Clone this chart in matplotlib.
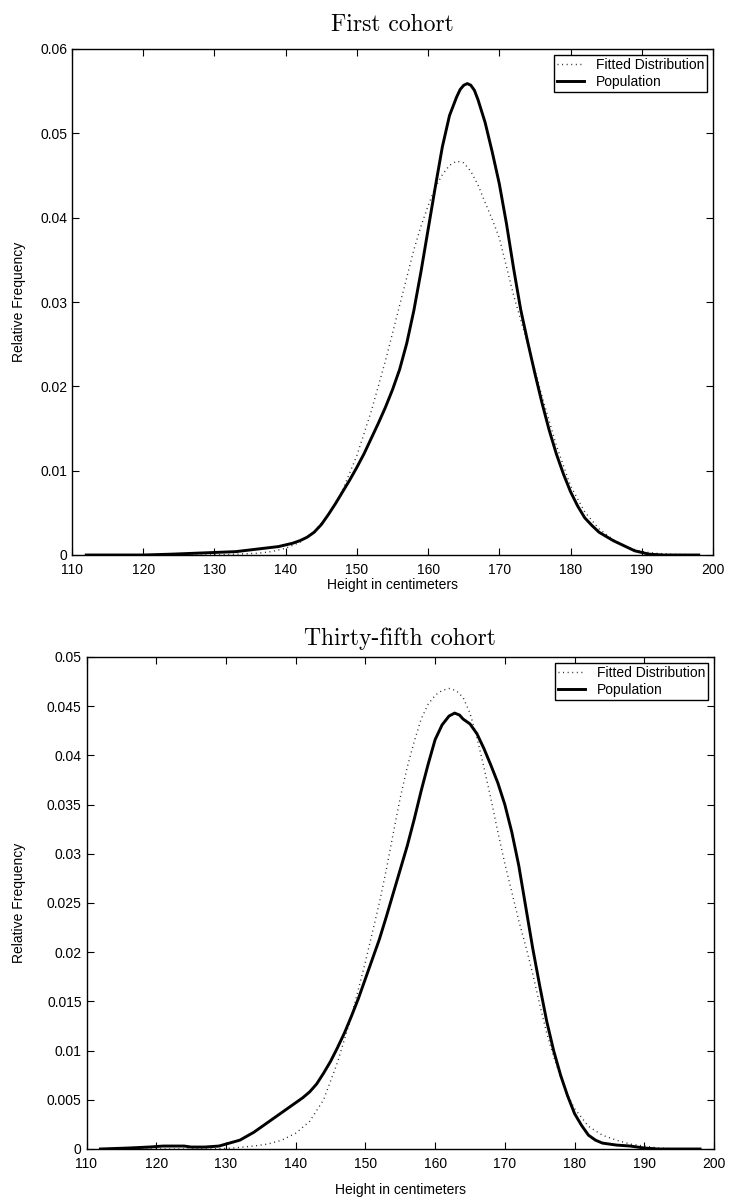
import matplotlib
matplotlib.use("Agg")
import matplotlib.pyplot as plt
from matplotlib.ticker import FixedLocator

plt.rcParams['font.family'] = ['Liberation Sans', 'DejaVu Sans']

# ---------------- data ----------------
x_ticks = [110, 120, 130, 140, 150, 160, 170, 180, 190, 200]

# First cohort
c1_pop_x = [112, 116, 120, 124, 127, 130, 133, 135, 137, 139, 140, 141, 142, 143, 144, 145,
            146, 147, 148, 149, 150, 151, 152, 153, 154, 155, 156, 157, 158, 159, 160, 161,
            162, 163, 164, 164.5, 165, 165.5, 166, 166.5, 167, 168, 169, 170, 171, 172, 173,
            174, 175, 176, 177, 178, 179, 180, 181, 182, 183, 184, 185, 186, 187, 188, 189,
            190, 191, 193, 195, 198]
c1_pop_y = [0, 0, 0, 0.0001, 0.0002, 0.0003, 0.0004, 0.0006, 0.0008, 0.0010, 0.0012, 0.0014,
            0.0017, 0.0021, 0.0027, 0.0036, 0.0048, 0.0061, 0.0075, 0.0089, 0.0104, 0.0120,
            0.0138, 0.0156, 0.0175, 0.0196, 0.0220, 0.0251, 0.0290, 0.0336, 0.0386, 0.0436,
            0.0484, 0.0521, 0.0543, 0.0552, 0.0557, 0.0559, 0.0557, 0.0551, 0.0540, 0.0513,
            0.0478, 0.0440, 0.0393, 0.0340, 0.0291, 0.0252, 0.0215, 0.0180, 0.0148, 0.0120,
            0.0096, 0.0075, 0.0058, 0.0044, 0.0035, 0.0027, 0.0022, 0.0017, 0.0013, 0.0009,
            0.0005, 0.0003, 0.0001, 0, 0, 0]
c1_fit_x = [112, 120, 125, 130, 133, 136, 138, 140, 142, 144, 146, 148, 150, 152, 154, 156,
            158, 159, 160, 161, 162, 163, 164, 165, 166, 167, 168, 169, 170, 172, 174, 176,
            178, 180, 182, 184, 186, 188, 190, 192, 194, 198]
c1_fit_y = [0, 0, 0, 0, 0.0001, 0.0002, 0.0004, 0.0008, 0.0015, 0.0028, 0.0047, 0.0077,
            0.0118, 0.0170, 0.0230, 0.0296, 0.0362, 0.0390, 0.0414, 0.0436, 0.0451, 0.0462,
            0.0467, 0.0465, 0.0455, 0.0439, 0.0418, 0.0398, 0.0376, 0.0308, 0.0250, 0.0188,
            0.0130, 0.0082, 0.0051, 0.0031, 0.0018, 0.0009, 0.0004, 0.0002, 0.0001, 0]

# Thirty-fifth cohort
c35_pop_x = [112, 116, 119, 121, 122.5, 124, 125, 127, 129, 130, 131, 132, 133, 134, 135, 136,
             137, 138, 139, 140, 141, 142, 143, 144, 145, 146, 147, 148, 149, 150, 151, 152,
             153, 154, 155, 156, 157, 158, 159, 160, 161, 162, 162.8, 163.5, 164, 165, 166,
             167, 168, 169, 170, 171, 172, 173, 174, 175, 176, 177, 178, 179, 180, 181, 182,
             183, 184, 185, 186, 188, 190, 192, 198]
c35_pop_y = [0, 0.0001, 0.0002, 0.0003, 0.0003, 0.0003, 0.0002, 0.0002, 0.0003, 0.0005,
             0.0007, 0.0009, 0.0013, 0.0017, 0.0022, 0.0027, 0.0032, 0.0037, 0.0042, 0.0047,
             0.0052, 0.0058, 0.0066, 0.0077, 0.0089, 0.0103, 0.0118, 0.0135, 0.0153, 0.0173,
             0.0193, 0.0213, 0.0236, 0.0260, 0.0284, 0.0308, 0.0335, 0.0364, 0.0391, 0.0416,
             0.0431, 0.0440, 0.0443, 0.0441, 0.0437, 0.0432, 0.0422, 0.0407, 0.0390, 0.0372,
             0.0350, 0.0322, 0.0288, 0.0246, 0.0204, 0.0166, 0.0130, 0.0100, 0.0075, 0.0054,
             0.0036, 0.0024, 0.0014, 0.0009, 0.0006, 0.0005, 0.0004, 0.0003, 0.0001, 0, 0]
c35_fit_x = [112, 120, 128, 131, 134, 136, 138, 140, 142, 144, 146, 148, 150, 151, 152, 153,
             154, 155, 156, 157, 158, 159, 160, 161, 162, 163, 164, 165, 166, 167, 168, 169,
             170, 171, 172, 173, 174, 175, 176, 177, 178, 179, 180, 182, 184, 186, 188, 190,
             192, 195, 198]
c35_fit_y = [0, 0, 0, 0.0001, 0.0003, 0.0005, 0.0009, 0.0016, 0.0028, 0.0050, 0.0088, 0.0135,
             0.0190, 0.0220, 0.0250, 0.0284, 0.0321, 0.0357, 0.0388, 0.0414, 0.0437, 0.0452,
             0.0461, 0.0466, 0.0468, 0.0466, 0.0459, 0.0443, 0.0418, 0.0388, 0.0356, 0.0322,
             0.0290, 0.0261, 0.0232, 0.0206, 0.0178, 0.0147, 0.0118, 0.0094, 0.0073, 0.0055,
             0.0041, 0.0023, 0.0014, 0.0009, 0.0005, 0.0003, 0.0001, 0, 0]

c1_yticks = [0, 0.01, 0.02, 0.03, 0.04, 0.05, 0.06]
c1_ylabels = ["0", "0.01", "0.02", "0.03", "0.04", "0.05", "0.06"]
c35_yticks = [0, 0.005, 0.01, 0.015, 0.02, 0.025, 0.03, 0.035, 0.04, 0.045, 0.05]
c35_ylabels = ["0", "0.005", "0.01", "0.015", "0.02", "0.025", "0.03", "0.035", "0.04",
               "0.045", "0.05"]

titles = ["First cohort", "Thirty-fifth cohort"]
xlabel = "Height in centimeters"
ylabel = "Relative Frequency"
legend_labels = ["Fitted Distribution", "Population"]

# ---------------- figure ----------------
W, H = 729, 1200
fig = plt.figure(figsize=(W / 100, H / 100), dpi=100)

def px_axes(l, t, r, b):
    return fig.add_axes([l / W, 1 - b / H, (r - l) / W, (b - t) / H])

ax1 = px_axes(72, 49, 713, 555)
ax2 = px_axes(86.5, 657, 714, 1149)

specs = [
    (ax1, c1_fit_x, c1_fit_y, c1_pop_x, c1_pop_y, c1_yticks, c1_ylabels, 0.06, titles[0],
     (-0.072, 0.5), (0.5, -0.046), 13),
    (ax2, c35_fit_x, c35_fit_y, c35_pop_x, c35_pop_y, c35_yticks, c35_ylabels, 0.05, titles[1],
     (-0.097, 0.5), (0.5, -0.069), 9),
]

for ax, fx, fy, px_, py, yt, yl, ymax, title, ylc, xlc, tpad in specs:
    l1, = ax.plot(fx, fy, color='#222222', lw=1.0, linestyle=(0, (0.7, 2.6)),
                  dash_capstyle='butt')
    l2, = ax.plot(px_, py, color='black', lw=2.1, solid_joinstyle='round')
    ax.set_xlim(110, 200)
    ax.set_ylim(0, ymax)
    ax.xaxis.set_major_locator(FixedLocator(x_ticks))
    ax.set_xticklabels([str(v) for v in x_ticks])
    ax.yaxis.set_major_locator(FixedLocator(yt))
    ax.set_yticklabels(yl)
    ax.tick_params(direction='in', length=5, width=0.8, top=True, right=True,
                   labelsize=10, colors='black')
    ax.tick_params(axis='x', pad=5.5)
    ax.tick_params(axis='y', pad=3.5)
    for s in ax.spines.values():
        s.set_linewidth(1.0)
        s.set_color('black')
    ax.set_xlabel(xlabel, fontsize=10)
    ax.set_ylabel(ylabel, fontsize=10)
    ax.xaxis.set_label_coords(*xlc)
    ax.yaxis.set_label_coords(*ylc)
    ax.set_title(title, fontfamily='cmr10', fontsize=17, pad=tpad)
    leg = ax.legend([l1, l2], legend_labels, loc='upper right', fontsize=10,
                    frameon=True, fancybox=False, edgecolor='black', framealpha=1,
                    borderpad=0.2, handlelength=2.0, handletextpad=0.8,
                    labelspacing=0.2, borderaxespad=0.45)
    leg.get_frame().set_linewidth(1.0)

fig.savefig("out.png", dpi=100)
